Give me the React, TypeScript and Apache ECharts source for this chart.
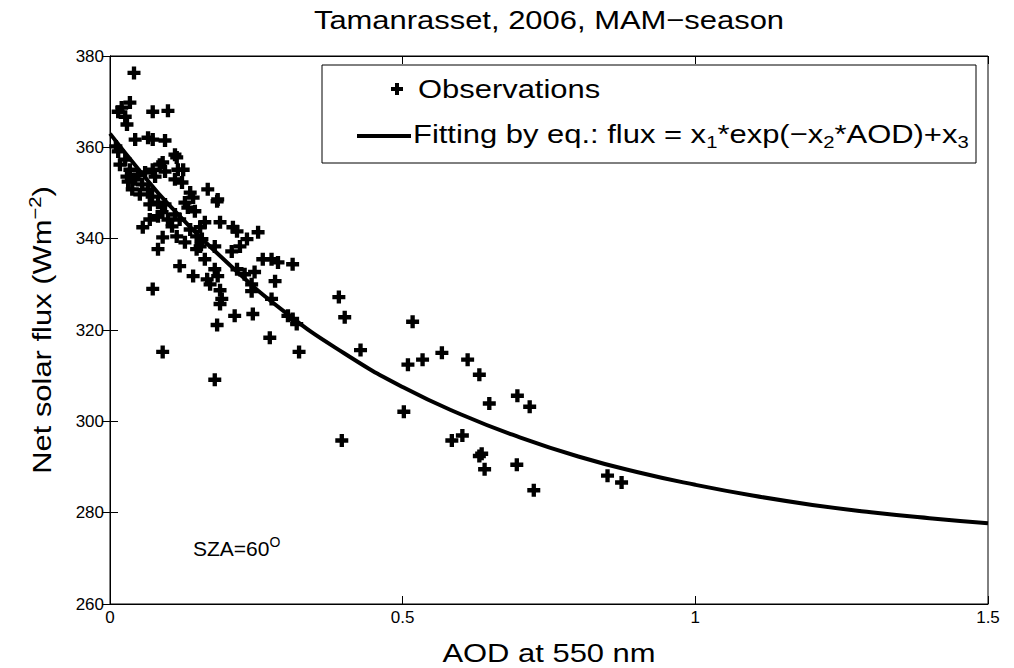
import React, { useEffect, useRef } from "react";
import * as echarts from "echarts";

const titleText = "Tamanrasset, 2006, MAM\u2212season";
const xName = "AOD at 550 nm";
const yName = "Net solar flux (Wm{sup|\u22122})";
const legendObs = "Observations";
const legendFit = "Fitting by eq.: flux = x{sub|1}*exp(\u2212x{sub|2}*AOD)+x{sub|3}";
const szaText = "SZA=60{sup|O}";

const xTicks = [0, 0.5, 1, 1.5];
const yTicks = [260, 280, 300, 320, 340, 360, 380];

const obsAOD = [
  0.041, 0.034, 0.020, 0.014, 0.026, 0.029, 0.073, 0.099, 0.043, 0.065, 0.094, 0.114, 0.085, 0.026, 0.125,
  0.073, 0.111, 0.090, 0.116, 0.123, 0.167, 0.137, 0.073,
  0.029, 0.043, 0.060, 0.077, 0.094, 0.111, 0.183, 0.142, 0.128, 0.082, 0.072, 0.089, 0.099, 0.082, 0.106, 0.114, 0.128, 0.137, 0.157, 0.162, 0.188, 0.148, 0.082, 0.090, 0.119, 0.142, 0.166, 0.179, 0.056,
  0.184, 0.217, 0.234, 0.253, 0.222, 0.208, 0.261, 0.276, 0.287, 0.312, 0.282, 0.184, 0.217, 0.230, 0.247,
  0.154, 0.179, 0.210, 0.148, 0.188, 0.191, 0.188, 0.242, 0.242, 0.276, 0.304, 0.312, 0.319, 0.183, 0.213, 0.244, 0.273, 0.323, 0.090, 0.179, 0.073, 0.171,
  0.391, 0.401, 0.428, 0.396, 0.502, 0.517, 0.509, 0.534, 0.567, 0.611, 0.631, 0.648, 0.696, 0.717, 0.584, 0.602, 0.635, 0.631, 0.640, 0.695, 0.724, 0.850, 0.874,
  0.014, 0.017, 0.034, 0.048, 0.055, 0.065, 0.068, 0.094, 0.111, 0.119, 0.068, 0.051, 0.038, 0.031, 0.010, 0.145, 0.133, 0.154, 0.162,
];
const obsFlux = [
  376.3, 369.8, 368.7, 367.8, 366.7, 365.0, 367.8, 368.0, 361.7, 362.1, 361.5, 357.8, 356.2, 357.3, 355.1,
  361.7, 358.4, 356.7, 355.1, 352.3, 350.8, 350.1, 355.1,
  353.6, 353.0, 354.5, 353.6, 354.7, 353.0, 348.2, 349.0, 347.9, 347.9, 349.2, 345.8, 344.2, 344.9, 342.7, 340.5, 339.2, 342.0, 339.9, 343.6, 343.6, 337.7, 337.7, 340.3, 334.0, 331.8, 331.1, 333.3, 342.5,
  348.6, 341.6, 339.9, 341.4, 338.3, 337.2, 335.5, 335.5, 334.8, 334.4, 330.7, 331.8, 333.3, 332.2, 332.7,
  338.3, 338.3, 342.5, 340.5, 328.7, 326.8, 325.7, 330.0, 328.5, 326.8, 323.1, 322.4, 321.3, 321.1, 323.1, 323.5, 318.3, 315.2, 315.2, 309.1, 329.0, 330.0,
  327.2, 322.8, 315.6, 295.8, 302.1, 321.8, 312.4, 313.5, 315.0, 313.5, 310.2, 303.9, 305.6, 303.2, 295.8, 296.9, 292.9, 292.4, 289.5, 290.5, 284.9, 288.1, 286.6,
  359.1, 356.2, 355.1, 354.0, 351.9, 350.8, 347.5, 347.5, 345.3, 344.2, 344.2, 349.7, 350.8, 352.5, 360.2, 346.0, 346.8, 342.5, 335.5,
];

const fitAOD = [0, 0.05, 0.1, 0.2, 0.3, 0.4, 0.5, 0.6, 0.7, 0.8, 0.9, 1.0, 1.1, 1.2, 1.3, 1.4, 1.5];
const fitFlux = [363, 355, 347.5, 334.8, 323.8, 314.9, 307.5, 301.5, 296.5, 292.3, 288.9, 286.1, 283.7, 281.7, 280.1, 278.8, 277.7];

const FONT = '"Liberation Sans", Arial, Helvetica, sans-serif';
const WIDEN = 1.19;

echarts.graphic.registerShape(
  "plusMark",
  echarts.graphic.extendPath("M-2,-6H2V-2H6V2H2V6H-2V2H-6V-2H-2Z", {})
);

export default function App() {
  const ref = useRef<HTMLDivElement>(null);
  useEffect(() => {
    if (!ref.current) return;
    const chart = echarts.init(ref.current, undefined, { renderer: "svg" });
    const obsData = obsAOD.map((a, i) => [a, obsFlux[i]]);
    const fitData = fitAOD.map((a, i) => [a, fitFlux[i]]);
    const tickLabelStyle = { color: "#000", fontSize: 17, fontFamily: FONT };
    const axisCommon = {
      axisLine: { show: true, lineStyle: { color: "#000", width: 1 } },
      axisTick: { show: true, inside: true, length: 8, lineStyle: { color: "#000" } },
      splitLine: { show: false },
    };
    chart.setOption({
      animation: false,
      backgroundColor: "#fff",
      grid: { left: 110, right: 26, top: 56, bottom: 64, show: true, borderColor: "#000", borderWidth: 1, backgroundColor: "transparent" },
      xAxis: [
        {
          type: "value", min: xTicks[0], max: xTicks[xTicks.length - 1], interval: 0.5, position: "bottom",
          ...axisCommon,
          axisLabel: { ...tickLabelStyle, margin: 5, formatter: (v: number) => String(v) },
        },
        {
          type: "value", min: xTicks[0], max: xTicks[xTicks.length - 1], interval: 0.5, position: "top",
          ...axisCommon, axisLabel: { show: false },
        },
      ],
      yAxis: [
        {
          type: "value", min: yTicks[0], max: yTicks[yTicks.length - 1], interval: 20, position: "left",
          ...axisCommon,
          axisLabel: { ...tickLabelStyle, margin: 6 },
        },
        {
          type: "value", min: yTicks[0], max: yTicks[yTicks.length - 1], interval: 20, position: "right",
          ...axisCommon, axisLabel: { show: false },
        },
      ],
      series: [
        {
          type: "scatter", name: "Observations", data: obsData, xAxisIndex: 0, yAxisIndex: 0,
          symbol: "path://M4,0H8V4H12V8H8V12H4V8H0V4H4Z", symbolSize: 13,
          itemStyle: { color: "#000", opacity: 1 }, z: 3,
        },
        {
          type: "line", name: "Fit", data: fitData, xAxisIndex: 0, yAxisIndex: 0,
          smooth: true, showSymbol: false, symbol: "none",
          lineStyle: { color: "#000", width: 4 }, z: 4,
        },
      ],
      graphic: [
        {
          type: "text", x: 549, y: 20, z: 10, scaleX: WIDEN,
          style: { text: titleText, fill: "#000", fontSize: 26, fontFamily: FONT, align: "center", verticalAlign: "middle" },
        },
        {
          type: "text", x: 549, y: 653, z: 10, scaleX: WIDEN,
          style: { text: xName, fill: "#000", fontSize: 26, fontFamily: FONT, align: "center", verticalAlign: "middle" },
        },
        {
          type: "text", x: 42, y: 330, z: 10, scaleX: WIDEN, rotation: Math.PI / 2,
          style: {
            text: yName, fill: "#000", fontSize: 26, fontFamily: FONT, align: "center", verticalAlign: "middle",
            rich: { sup: { fontSize: 17, fontFamily: FONT, fill: "#000", padding: [0, 0, 14, 0] } },
          },
        },
        {
          type: "rect", z: 10, shape: { x: 322, y: 65, width: 654, height: 98 },
          style: { fill: "#fff", stroke: "#000", lineWidth: 1 },
        },
        { type: "plusMark", x: 397, y: 89, z: 11, style: { fill: "#000" } },
        {
          type: "text", x: 418, y: 89, z: 11, scaleX: WIDEN,
          style: { text: legendObs, fill: "#000", fontSize: 26, fontFamily: FONT, align: "left", verticalAlign: "middle" },
        },
        { type: "line", z: 11, shape: { x1: 357, y1: 136, x2: 411, y2: 136 }, style: { stroke: "#000", lineWidth: 4 } },
        {
          type: "text", x: 413, y: 134, z: 11, scaleX: WIDEN,
          style: {
            text: legendFit, fill: "#000", fontSize: 26, fontFamily: FONT, align: "left", verticalAlign: "middle",
            rich: { sub: { fontSize: 17, fontFamily: FONT, fill: "#000", padding: [16, 0, 0, 0] } },
          },
        },
        {
          type: "text", x: 193, y: 548, z: 11,
          style: {
            text: szaText, fill: "#000", fontSize: 21, fontFamily: FONT, align: "left", verticalAlign: "middle",
            rich: { sup: { fontSize: 14, fontFamily: FONT, fill: "#000", padding: [0, 0, 12, 0] } },
          },
        },
      ],
    });
    return () => chart.dispose();
  }, []);
  return <div ref={ref} style={{ position: "absolute", left: 0, top: 0, width: 1014, height: 668 }} />;
}
